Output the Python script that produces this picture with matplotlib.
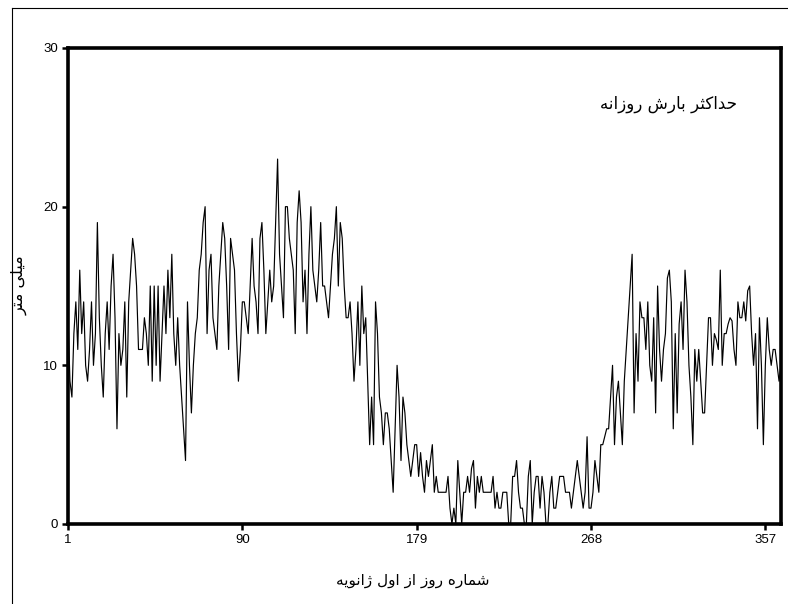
import matplotlib
matplotlib.use('Agg')
import matplotlib.pyplot as plt
from matplotlib.lines import Line2D

# ---------------- data ----------------
days = list(range(1, 366))
rain_jan_feb = [13, 9, 8, 12, 14, 11, 16, 12, 14, 10, 9, 11, 14, 10, 12, 19, 13, 10, 8, 12,
                14, 11, 15, 17, 13, 6, 12, 10, 11, 14,
                8, 14, 16, 18, 17, 15, 11, 11, 11, 13, 12, 10, 15, 9, 15, 10, 15, 9, 12, 15,
                12, 16, 13, 17, 12, 10, 13, 10, 8, 6]
rain_mar_apr = [4, 14, 10, 7, 10, 12, 13, 16, 17, 19, 20, 12, 16, 17, 13, 12, 11, 15, 17, 19,
                18, 15, 11, 18, 17, 16, 12, 9, 11, 14,
                14, 13, 12, 15, 18, 15, 14, 12, 18, 19, 16, 12, 14, 16, 14, 15, 19, 23, 17, 15,
                13, 20, 20, 18, 17, 16, 12, 19, 21, 19, 14, 16]
rain_may_jun = [12, 17, 20, 16, 15, 14, 16, 19, 15, 15, 14, 13, 15, 17, 18, 20, 15, 19, 18, 15,
                13, 13, 14, 12, 9, 11, 14, 10, 15, 12, 13, 9,
                5, 8, 5, 14, 12, 8, 7, 5, 7, 7, 6, 4, 2, 6, 10, 8, 4, 8, 7, 5, 4, 3, 4, 5, 5, 3, 4.5, 3]
rain_jul_aug = [2, 4, 3, 4, 5, 2, 3, 2, 2, 2, 2, 2, 3, 1, 0, 1, 0, 4, 2, 0, 2, 2, 3, 2, 3.5, 4,
                1, 3, 2, 3, 2,
                2, 2, 2, 2, 3, 1, 2, 1, 1, 2, 2, 2, 0, 0, 3, 3, 4, 2, 1, 1, 0, 0, 3, 4, 0, 2, 3,
                3, 1, 3, 2]
rain_sep_oct = [0, 0, 2, 3, 1, 1, 2, 3, 3, 3, 2, 2, 2, 1, 2, 3, 4, 3, 2, 1, 2, 5.5, 1, 1, 2, 4,
                3, 2, 5, 5,
                5.5, 6, 6, 8, 10, 5, 8, 9, 7, 5, 9, 11, 13, 15, 17, 7, 12, 9, 14, 13, 13, 11, 14,
                10, 9, 13, 7, 15, 11, 9, 11]
rain_nov_dec = [12, 15.5, 16, 14, 6, 12, 7, 12.6, 14, 11, 16, 14, 10, 8, 5, 11, 9, 11, 9, 7, 7,
                10, 13, 13, 10, 12, 11.6, 11, 16, 10, 12,
                12, 12.6, 13, 12.8, 11, 10, 14, 13, 13, 14, 12.8, 14.7, 15, 12, 10, 12, 6, 13, 10,
                5, 10, 13, 11, 10, 11, 11, 10, 9, 10]
rain = rain_jan_feb + rain_mar_apr + rain_may_jun + rain_jul_aug + rain_sep_oct + rain_nov_dec

xticks = [1, 90, 179, 268, 357]
yticks = [0, 10, 20, 30]
title_text = "حداکثر بارش روزانه"
ylabel_text = "میلی متر"
xlabel_text = "شماره روز از اول ژانویه"

# ------------- minimal Persian shaping (matplotlib has no shaping) -------------
FORMS = {
    'ا': ('\uFE8D', '\uFE8E'), 'د': ('\uFEA9', '\uFEAA'), 'ر': ('\uFEAD', '\uFEAE'),
    'ز': ('\uFEAF', '\uFEB0'), 'ژ': ('\uFB8A', '\uFB8B'), 'و': ('\uFEED', '\uFEEE'),
    'ب': ('\uFE8F', '\uFE90', '\uFE91', '\uFE92'), 'ت': ('\uFE95', '\uFE96', '\uFE97', '\uFE98'),
    'ث': ('\uFE99', '\uFE9A', '\uFE9B', '\uFE9C'), 'ح': ('\uFEA1', '\uFEA2', '\uFEA3', '\uFEA4'),
    'ش': ('\uFEB5', '\uFEB6', '\uFEB7', '\uFEB8'), 'ک': ('\uFB8E', '\uFB8F', '\uFB90', '\uFB91'),
    'ل': ('\uFEDD', '\uFEDE', '\uFEDF', '\uFEE0'), 'م': ('\uFEE1', '\uFEE2', '\uFEE3', '\uFEE4'),
    'ن': ('\uFEE5', '\uFEE6', '\uFEE7', '\uFEE8'), 'ه': ('\uFEE9', '\uFEEA', '\uFEEB', '\uFEEC'),
    'ی': ('\uFBFC', '\uFBFD', '\uFBFE', '\uFBFF'),
}


def shape(text):
    out = []
    n = len(text)
    for i, ch in enumerate(text):
        if ch not in FORMS:
            out.append(ch)
            continue
        prev = text[i - 1] if i > 0 else None
        nxt = text[i + 1] if i < n - 1 else None
        jp = prev in FORMS and len(FORMS[prev]) == 4
        jn = nxt in FORMS and len(FORMS[ch]) == 4
        f = FORMS[ch]
        if jp and jn:
            out.append(f[3])
        elif jp:
            out.append(f[1])
        elif jn:
            out.append(f[2])
        else:
            out.append(f[0])
    return ''.join(reversed(out))


# ---------------- figure ----------------
W, H = 788, 604
fig = plt.figure(figsize=(W / 100, H / 100), dpi=100)
fig.patch.set_facecolor('white')
ax = fig.add_axes([68 / W, 1 - 524 / H, (781 - 68) / W, (524 - 48) / H])

ax.plot(days, rain, color='black', linewidth=0.85, clip_on=True, zorder=2)
ax.set_xlim(1, 365)
ax.set_ylim(0, 30)
ax.set_xticks(xticks)
ax.set_yticks(yticks)
ax.set_xticklabels([str(t) for t in xticks], family='Liberation Sans', fontsize=9.5)
ax.set_yticklabels([str(t) for t in yticks], family='Liberation Sans', fontsize=9.5)
ax.tick_params(axis='both', direction='out', length=4, width=1.8, pad=3, color='black')
for sp in ax.spines.values():
    sp.set_linewidth(2.6)
    sp.set_color('black')
    sp.set_zorder(3)

arabic_font = ['DejaVu Sans']
ax.text(668 / W, 1 - 104 / H, shape(title_text), transform=fig.transFigure,
        ha='center', va='center', fontsize=12, family=arabic_font)
fig.text(413 / W, 1 - 580 / H, shape(xlabel_text), ha='center', va='center',
         fontsize=11, family=arabic_font)
fig.text(19 / W, 1 - 285 / H, shape(ylabel_text), ha='center', va='center',
         rotation=90, fontsize=11.5, family=arabic_font)

# thin outer frame (left and top edges visible in reference)
fig.add_artist(Line2D([12 / W, 12 / W], [0, 1 - 8 / H], transform=fig.transFigure,
                      color='black', linewidth=0.8))
fig.add_artist(Line2D([12 / W, 1], [1 - 8 / H, 1 - 8 / H], transform=fig.transFigure,
                      color='black', linewidth=0.8))

fig.savefig('out.png', dpi=100, facecolor='white')
